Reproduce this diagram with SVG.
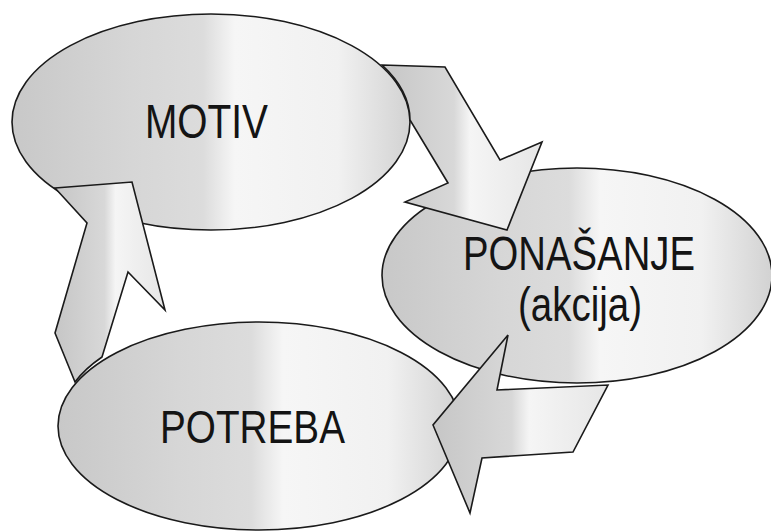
<svg xmlns="http://www.w3.org/2000/svg" width="771" height="532" viewBox="0 0 771 532">
<defs>
<linearGradient id="gNode" x1="0" y1="0" x2="1" y2="0">
<stop offset="0" stop-color="#c8c8c8"/>
<stop offset="0.3" stop-color="#d6d6d6"/>
<stop offset="0.48" stop-color="#dcdcdc"/>
<stop offset="0.56" stop-color="#f6f6f6"/>
<stop offset="0.82" stop-color="#f1f1f1"/>
<stop offset="1" stop-color="#d2d2d2"/>
</linearGradient>
<linearGradient id="gArrow" x1="0" y1="0" x2="1" y2="0">
<stop offset="0" stop-color="#c6c6c6"/>
<stop offset="0.45" stop-color="#d8d8d8"/>
<stop offset="0.55" stop-color="#f5f5f5"/>
<stop offset="1" stop-color="#e6e6e6"/>
</linearGradient>
<style>
.node{fill:url(#gNode);stroke:#1a1a1a;stroke-width:1.6}
.arrow{fill:url(#gArrow);stroke:#1a1a1a;stroke-width:1.6;stroke-linejoin:miter}
.lbl{font-family:"Liberation Sans",Arial,sans-serif;font-size:49px;fill:#141414}
</style>
</defs>
<rect width="771" height="532" fill="#ffffff"/>
<g id="node-ponasanje">
<ellipse class="node" cx="577" cy="275.5" rx="195" ry="107.5"/>
<text class="lbl" x="463" y="270" textLength="232" lengthAdjust="spacingAndGlyphs">PONAŠANJE</text>
<text class="lbl" x="518" y="321" textLength="124" lengthAdjust="spacingAndGlyphs">(akcija)</text>
</g>
<g id="node-motiv">
<ellipse class="node" cx="211" cy="122" rx="199" ry="108"/>
<text class="lbl" x="145" y="138" textLength="123" lengthAdjust="spacingAndGlyphs">MOTIV</text>
</g>
<g id="node-potreba">
<ellipse class="node" cx="259" cy="426" rx="201" ry="104"/>
<text class="lbl" x="160" y="443" style="font-size:47px" textLength="185" lengthAdjust="spacingAndGlyphs">POTREBA</text>
</g>
<g id="connectors">
<path id="arrow-motiv-ponasanje" class="arrow" d="M382,65 L445,67 L500,160 L542,142 L507,230 L405,202 L448,183 L410,120 A199,108 0 0 0 382,65 Z"/>
<path id="arrow-ponasanje-potreba" class="arrow" d="M508,335 L497,390 L608,385 L573,452 L482,458 L470,513 L433,425 Z"/>
<path id="arrow-potreba-motiv" class="arrow" d="M55,188 L132,182 L165,310 L128,272 L102,357 A201,104 0 0 0 75,382 L55,333 L87,223 Z"/>
</g>
</svg>
